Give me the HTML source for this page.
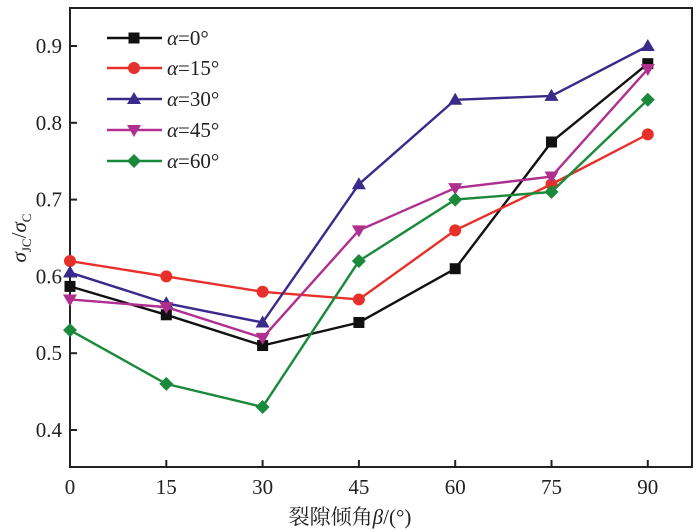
<!DOCTYPE html>
<html><head><meta charset="utf-8"><style>
html,body{margin:0;padding:0;background:#fff;width:700px;height:532px;overflow:hidden}
text{font-family:"Liberation Serif","Noto Serif CJK SC",serif;fill:#222}
</style></head><body>
<svg id="s" width="700" height="532" xmlns="http://www.w3.org/2000/svg">
<rect x="70" y="8" width="622" height="459" fill="none" stroke="#222" stroke-width="2"/>
<g id="ax"></g><g id="ser"></g>
<text x="350" y="524" font-size="21" text-anchor="middle">裂隙倾角<tspan font-style="italic">β</tspan>/(°)</text>
<text transform="translate(26,238) rotate(-90)" font-size="21" text-anchor="middle"><tspan font-style="italic">σ</tspan><tspan font-size="13" dy="5">JC</tspan><tspan dy="-5">/</tspan><tspan font-style="italic">σ</tspan><tspan font-size="13" dy="5">C</tspan></text>
</svg>
<script>
const NS="http://www.w3.org/2000/svg";
function el(p,t,a,txt){const e=document.createElementNS(NS,t);for(const k in a)e.setAttribute(k,a[k]);if(txt!==undefined)e.textContent=txt;p.appendChild(e);return e;}
const X=v=>70+v*6.42, Y=v=>46+(0.9-v)*768;
const ax=document.getElementById('ax'), ser=document.getElementById('ser');
[0,15,30,45,60,75,90].forEach(v=>{el(ax,'line',{x1:X(v),x2:X(v),y1:467,y2:460,stroke:'#222','stroke-width':2});el(ax,'text',{x:X(v),y:494,'font-size':21,'text-anchor':'middle'},v);});
[0.4,0.5,0.6,0.7,0.8,0.9].forEach(v=>{el(ax,'line',{x1:70,x2:77,y1:Y(v),y2:Y(v),stroke:'#222','stroke-width':2});el(ax,'text',{x:62,y:Y(v)+7,'font-size':21,'text-anchor':'end'},v.toFixed(1));});
const S=[
['#111','sq',[0.587,0.55,0.51,0.54,0.61,0.775,0.877],'0'],
['#e8302a','ci',[0.62,0.60,0.58,0.57,0.66,0.72,0.785],'15'],
['#3a2a8c','up',[0.605,0.565,0.54,0.72,0.83,0.835,0.90],'30'],
['#b0308f','dn',[0.57,0.56,0.52,0.66,0.715,0.73,0.87],'45'],
['#1a8a3a','di',[0.53,0.46,0.43,0.62,0.70,0.71,0.83],'60']];
function mk(g,t,x,y,c){
 if(t=='sq')el(g,'rect',{x:x-5.5,y:y-5.5,width:11,height:11,fill:c});
 else if(t=='ci')el(g,'circle',{cx:x,cy:y,r:6,fill:c});
 else if(t=='up')el(g,'polygon',{points:`${x},${y-7} ${x-7},${y+5} ${x+7},${y+5}`,fill:c});
 else if(t=='dn')el(g,'polygon',{points:`${x},${y+7} ${x-7},${y-5} ${x+7},${y-5}`,fill:c});
 else el(g,'polygon',{points:`${x},${y-7} ${x+7},${y} ${x},${y+7} ${x-7},${y}`,fill:c});
}
S.forEach((s,i)=>{
 const pts=s[2].map((v,j)=>X(j*15)+','+Y(v)).join(' ');
 el(ser,'polyline',{points:pts,fill:'none',stroke:s[0],'stroke-width':2.4});
 s[2].forEach((v,j)=>mk(ser,s[1],X(j*15),Y(v),s[0]));
 const ly=[38,68,99,130,161][i];
 el(ser,'line',{x1:107,x2:162,y1:ly,y2:ly,stroke:s[0],'stroke-width':2.4});
 mk(ser,s[1],134,ly,s[0]);
 const t=el(ser,'text',{x:167,y:ly+7,'font-size':21});
 el(t,'tspan',{'font-style':'italic'},'α');
 el(t,'tspan',{},'='+s[3]+'°');
});
</script>
</body></html>
